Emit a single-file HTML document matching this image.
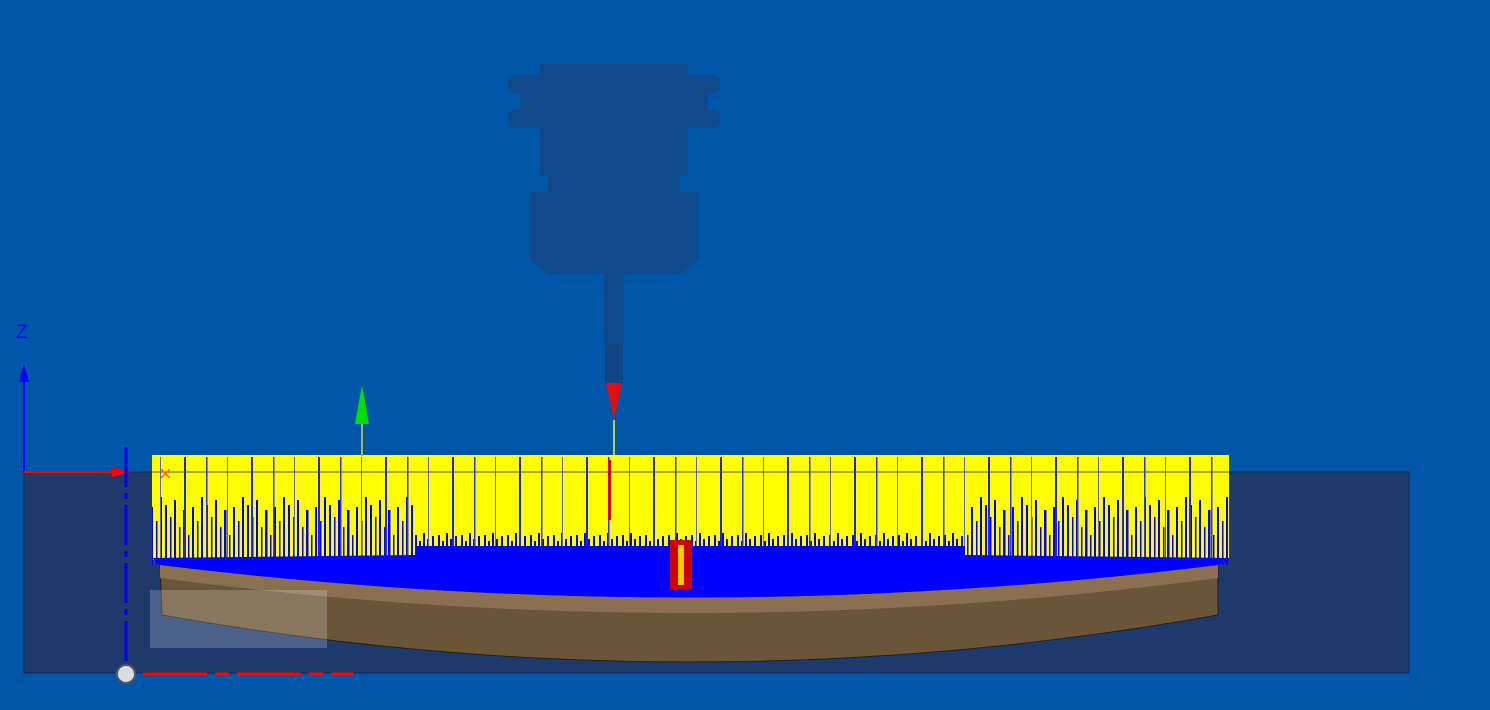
<!DOCTYPE html>
<html><head><meta charset="utf-8"><style>
html,body{margin:0;padding:0;background:#0056a8;width:1490px;height:710px;overflow:hidden}
svg{display:block}
</style></head><body>
<svg id="s" width="1490" height="710" viewBox="0 0 1490 710">
<defs>
<pattern id="pA" patternUnits="userSpaceOnUse" x="0" y="455" width="41" height="120">
<rect x="1" y="50" width="2" height="70" fill="#0000ff"/>
<rect x="6" y="62" width="1.5" height="60" fill="#0000ff"/>
<rect x="10" y="45" width="2" height="75" fill="#0000ff"/>
<rect x="15" y="72" width="1.5" height="50" fill="#0000ff"/>
<rect x="19" y="55" width="2.5" height="65" fill="#0000ff"/>
<rect x="24" y="80" width="1.5" height="40" fill="#0000ff"/>
<rect x="28" y="52" width="2" height="70" fill="#0000ff"/>
<rect x="33" y="66" width="1.5" height="55" fill="#0000ff"/>
<rect x="37" y="42" width="2" height="80" fill="#0000ff"/>
</pattern>
<pattern id="pB" patternUnits="userSpaceOnUse" x="3" y="455" width="67" height="120">
<rect x="2" y="2" width="1.5" height="118" fill="#3030ff"/>
<rect x="23" y="2" width="1" height="118" fill="#6060d0"/>
<rect x="47" y="2" width="2" height="118" fill="#2020ff"/>
</pattern>
<pattern id="pC" patternUnits="userSpaceOnUse" x="0" y="455" width="23" height="120">
<rect x="1" y="80" width="2" height="40" fill="#0000ff"/>
<rect x="5" y="86" width="2" height="40" fill="#0000ff"/>
<rect x="9" y="78" width="2" height="40" fill="#0000ff"/>
<rect x="13" y="84" width="2" height="40" fill="#0000ff"/>
<rect x="18" y="81" width="2" height="40" fill="#0000ff"/>
</pattern>
</defs>
<rect width="1490" height="710" fill="#0056a8"/>
<rect x="24" y="472" width="1385" height="201" fill="#1e3a6d" stroke="#15284d" stroke-width="1"/>
<g fill="#114a8c">
<rect x="540" y="64" width="148" height="12"/>
<rect x="508" y="75" width="212" height="18" rx="6"/>
<rect x="520" y="93" width="188" height="18"/>
<rect x="508" y="110" width="212" height="18" rx="6"/>
<rect x="540" y="128" width="148" height="48"/>
<rect x="548" y="176" width="132" height="16"/>
<path d="M530 192 H698 V260 L680 274 H548 L530 260 Z"/>
<rect x="604" y="274" width="20" height="70"/>
<rect x="605" y="344" width="18" height="40" fill="#0f4683"/>
</g>
<polygon points="606,383 622,383 614,420" fill="#e01010"/>
<line x1="614" y1="420" x2="614" y2="456" stroke="#c8c840" stroke-width="2"/>
<path d="M160 565 Q690 630 1218 565 L1218 615 Q690 709 162 615 Z" fill="#6b5538" stroke="#2a2010"/>
<path d="M160 565 Q690 630 1218 565 L1218 578 Q690 648 160 578 Z" fill="#8a7050"/>
<rect x="152" y="455" width="1077" height="105" fill="#ffff00"/>
<rect x="152" y="455" width="263" height="110" fill="url(#pA)"/>
<rect x="965" y="455" width="264" height="110" fill="url(#pA)"/>
<rect x="415" y="455" width="550" height="100" fill="url(#pC)"/>
<rect x="152" y="455" width="1077" height="110" fill="url(#pB)"/>
<path d="M152 558 L415 555 L415 546 L965 546 L965 555 L1229 558 L1229 560 L1218 565 Q690 630 160 565 Z" fill="#0000ff"/>
<line x1="152" y1="472" x2="1229" y2="472" stroke="#555" stroke-width="1"/>
<text x="159" y="481" font-family="Liberation Sans,sans-serif" font-size="22" fill="#ff6a00">×</text>
<rect x="608" y="460" width="3" height="60" fill="#e00000"/>
<rect x="670" y="540" width="22" height="50" fill="#d00000"/>
<rect x="678" y="545" width="6" height="40" fill="#ffcc00"/>
<rect x="150" y="590" width="177" height="58" fill="#ffffff" fill-opacity="0.2"/>
<line x1="362" y1="420" x2="362" y2="456" stroke="#9ac040" stroke-width="2"/>
<polygon points="355,424 369,424 362,385" fill="#00e000"/>
<line x1="24" y1="472" x2="24" y2="380" stroke="#0000ff" stroke-width="2"/>
<polygon points="19,382 29,382 24,364" fill="#0000ff"/>
<text x="16" y="338" font-family="Liberation Sans,sans-serif" font-size="19" fill="#0000ff">Z</text>
<line x1="24" y1="472" x2="115" y2="472" stroke="#ff0000" stroke-width="2"/>
<polygon points="112,467 112,477 130,472" fill="#ff0000"/>
<line x1="126" y1="447" x2="126" y2="662" stroke="#0000ff" stroke-width="3" stroke-dasharray="40,6,6,6"/>
<line x1="143" y1="674" x2="353" y2="674" stroke="#ff0000" stroke-width="3" stroke-dasharray="64,8,14,8"/>
<circle cx="126" cy="674" r="9" fill="#d8dce4" stroke="#556" stroke-width="2"/>
</svg>
</body></html>
